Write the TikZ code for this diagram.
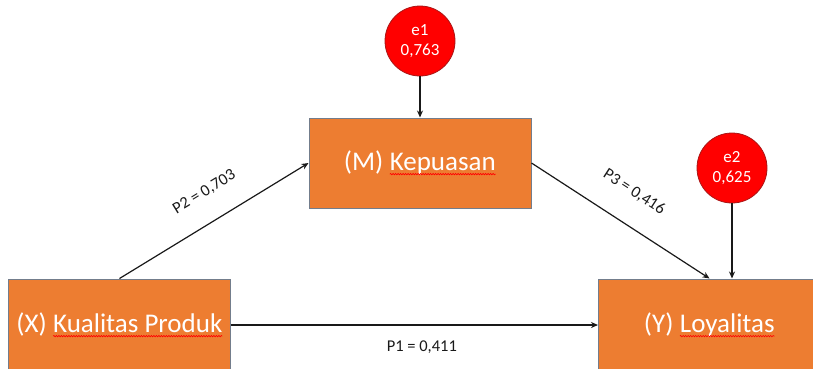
\documentclass[tikz,border=0pt]{standalone}
\usepackage{fontspec}
\setmainfont{Carlito}
\usetikzlibrary{arrows.meta,decorations.pathmorphing}
\definecolor{boxorange}{RGB}{237,125,49}
\definecolor{boxline}{RGB}{115,125,140}
\definecolor{ringred}{RGB}{170,20,20}
% red wavy mark under a word
\newcommand\typo[1]{\tikz[baseline=(w.base)]{\node[draw=none,fill=none,inner sep=0pt,outer sep=0pt,minimum size=0pt] (w) {#1};
	\draw[red,line width=0.6pt,decorate,decoration={snake,amplitude=0.7pt,segment length=2.5pt}] ([yshift=-3.5pt]w.base west) -- ([yshift=-3.5pt]w.base east);}}

\begin{document}
\begin{tikzpicture}[x=1pt,y=-1pt,
	var/.style={draw=boxline,line width=1pt,fill=boxorange,text=white,minimum width=222pt,minimum height=90pt,font=\fontsize{27}{32}\selectfont},
	err/.style={circle,draw=ringred,line width=0.8pt,fill=red,text=white,minimum size=70pt,inner sep=0pt,align=center,font=\fontsize{17}{20}\selectfont},
	link/.style={-{Stealth[length=7pt,width=6pt]},line width=1.2pt,black!90},
	coef/.style={font=\fontsize{16.5}{18}\selectfont}]
		\useasboundingbox (0,0) rectangle (813,368);
		\node[var] (m) at (420,163) {(M) \typo{Kepuasan}};
		\node[var,minimum height=92pt] (x) at (119.5,325) {(X) \typo{Kualitas Produk}};
		\node[var,minimum height=92pt] (y) at (709.5,325) {(Y) \typo{Loyalitas}};
		\node[err] (e1) at (420,41) {e1\\0,763};
		\node[err] (e2) at (732,168) {e2\\0,625};
		\draw[link] (e1) -- (m);
		\draw[link] (e2) -- (e2 |- y.north);
		\draw[link] (x.north) -- (m.west) node[coef,pos=0.53,sloped,above=19pt]{P2 = 0,703};
		\draw[link] (m.east) -- (y.north) node[coef,pos=0.48,sloped,above=21pt]{P3 = 0,416};
		\draw[link] (x.east) -- (y.west) node[coef,pos=0.52,below=12pt]{P1 = 0,411};
\end{tikzpicture}
\end{document}
